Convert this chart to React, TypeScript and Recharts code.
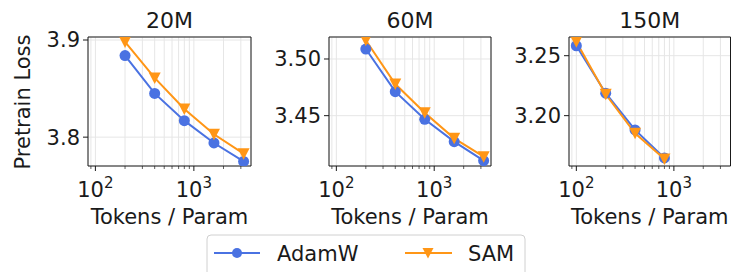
import React from 'react';
import { LineChart, Line, XAxis, YAxis, CartesianGrid, ReferenceArea } from 'recharts';

// ─── Data ─────────────────────────────────────────────────────────────────────

const TOKENS_SMALL = [200, 400, 800, 1600, 3200];
const TOKENS_150M = [100, 200, 400, 800];

const ADAMW_20M = [3.884, 3.845, 3.817, 3.794, 3.775];
const SAM_20M = [3.898, 3.861, 3.829, 3.803, 3.783];

const ADAMW_60M = [3.5088, 3.4712, 3.4468, 3.4271, 3.4103];
const SAM_60M = [3.5165, 3.4779, 3.4526, 3.43, 3.4138];

const ADAMW_150M = [3.2583, 3.2187, 3.1881, 3.1647];
const SAM_150M = [3.2617, 3.2178, 3.1853, 3.1639];

const X_MAJOR = [100, 1000];
const X_MINOR = [90, 200, 300, 400, 500, 600, 700, 800, 900, 2000, 3000];
const X_DOMAIN: [number, number] = [84.1, 3805];

const BLUE = '#4a72e2';
const ORANGE = '#ff9616';
const INK = '#1a1a1a';
const FONT = "'DejaVu Sans', sans-serif";

function rows(xs: number[], adamw: number[], sam: number[]) {
  return xs.map((x, i) => ({ x, adamw: adamw[i], sam: sam[i] }));
}

const PANELS = [
  { title: '20M', data: rows(TOKENS_SMALL, ADAMW_20M, SAM_20M), yDomain: [3.7703, 3.9031], yTicks: [3.8, 3.9], dec: 1, left: 0, width: 260, yWidth: 88, right: 9 },
  { title: '60M', data: rows(TOKENS_SMALL, ADAMW_60M, SAM_60M), yDomain: [3.4056, 3.5194], yTicks: [3.45, 3.5], dec: 2, left: 250, width: 250, yWidth: 79, right: 9 },
  { title: '150M', data: rows(TOKENS_150M, ADAMW_150M, SAM_150M), yDomain: [3.158, 3.2656], yTicks: [3.2, 3.25], dec: 2, left: 490, width: 242, yWidth: 79, right: 1.5 },
];

// ─── Marks ────────────────────────────────────────────────────────────────────

function XTick({ x, y, payload }: any) {
  const v = payload.value;
  const major = X_MAJOR.includes(v);
  return (
    <g>
      <line x1={x} x2={x} y1={y} y2={y + (major ? 5 : 3)} stroke={INK} strokeWidth={major ? 1 : 0.7} />
      {major && (
        <text x={x} y={y + 31} textAnchor="middle" fontSize={21} fontFamily={FONT} fill={INK}>
          10<tspan dy={-9} fontSize={15}>{Math.round(Math.log10(v))}</tspan>
        </text>
      )}
    </g>
  );
}

function Circle({ cx, cy, color }: any) {
  if (cx == null || cy == null) return null;
  return <circle cx={cx} cy={cy} r={5.5} fill={color} />;
}

function TriDown({ cx, cy, color }: any) {
  if (cx == null || cy == null) return null;
  return <polygon points={`${cx - 6},${cy - 5.5} ${cx + 6},${cy - 5.5} ${cx},${cy + 6}`} fill={color} />;
}

// ─── Component ────────────────────────────────────────────────────────────────

export default function App() {
  return (
    <div style={{ position: 'absolute', left: 0, top: 0, width: 732, height: 272, background: '#fff', overflow: 'hidden', fontFamily: FONT }}>
      {PANELS.map((p) => (
        <div key={p.title} style={{ position: 'absolute', left: p.left, top: 0 }}>
          <LineChart width={p.width} height={272} data={p.data} margin={{ top: 37, right: p.right, left: 0, bottom: 72 }}>
            <CartesianGrid stroke="#e6e6e6" strokeWidth={1} />
            <XAxis
              dataKey="x"
              type="number"
              scale="log"
              domain={X_DOMAIN}
              allowDataOverflow
              ticks={[...X_MAJOR, ...X_MINOR].sort((a, b) => a - b)}
              interval={0}
              tick={<XTick />}
              tickLine={false}
              axisLine={false}
              tickSize={0}
              tickMargin={0}
              height={34}
            />
            <YAxis
              type="number"
              domain={p.yDomain}
              allowDataOverflow
              ticks={p.yTicks}
              tickFormatter={(v: number) => v.toFixed(p.dec)}
              tick={{ fill: INK, fontSize: 21, fontFamily: FONT }}
              tickLine={{ stroke: INK }}
              tickSize={5}
              tickMargin={3}
              axisLine={false}
              width={p.yWidth}
            />
            <ReferenceArea x1={X_DOMAIN[0]} x2={X_DOMAIN[1]} y1={p.yDomain[0]} y2={p.yDomain[1]} fill="none" stroke={INK} strokeWidth={1} fillOpacity={0} ifOverflow="visible" />
            <Line dataKey="adamw" type="linear" stroke={BLUE} strokeWidth={2} dot={<Circle color={BLUE} />} isAnimationActive={false} />
            <Line dataKey="sam" type="linear" stroke={ORANGE} strokeWidth={2} dot={<TriDown color={ORANGE} />} isAnimationActive={false} />
          </LineChart>
        </div>
      ))}
      <svg width={732} height={272} style={{ position: 'absolute', left: 0, top: 0, pointerEvents: 'none' }} fontFamily={FONT} fill={INK}>
        {PANELS.map((p) => {
          const cx = p.left + p.yWidth + (p.width - p.yWidth - p.right) / 2;
          return (
            <g key={p.title}>
              <text x={cx} y={28} textAnchor="middle" fontSize={22}>{p.title}</text>
              <text x={cx} y={224} textAnchor="middle" fontSize={21}>Tokens / Param</text>
            </g>
          );
        })}
        <text x={0} y={0} transform="translate(30,102) rotate(-90)" textAnchor="middle" fontSize={21}>Pretrain Loss</text>
        <rect x={207} y={235} width={318} height={45} rx={4} fill="#fff" stroke="#d0d0d0" strokeWidth={1} />
        <line x1={214} x2={260} y1={253} y2={253} stroke={BLUE} strokeWidth={2} />
        <circle cx={237} cy={253} r={5} fill={BLUE} />
        <text x={277} y={260.5} fontSize={21}>AdamW</text>
        <line x1={405} x2={452} y1={253} y2={253} stroke={ORANGE} strokeWidth={2} />
        <polygon points="422.5,248 433.5,248 428,258.5" fill={ORANGE} />
        <text x={468} y={260.5} fontSize={21}>SAM</text>
      </svg>
    </div>
  );
}
